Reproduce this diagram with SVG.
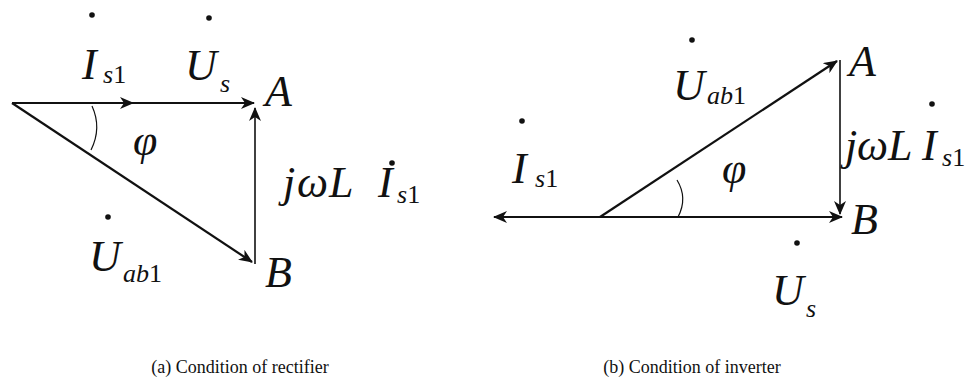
<svg xmlns="http://www.w3.org/2000/svg" width="974" height="384" viewBox="0 0 974 384" font-family="Liberation Serif, Times New Roman, serif">
<style>
.bg{fill:#fff}
.v{stroke:#111;stroke-width:2.2;fill:none}
.t{stroke:#111;stroke-width:1.6;fill:none}
.arc{stroke:#111;stroke-width:1.2;fill:none}
.m{font-style:italic;font-size:44px;fill:#111}
.sub{font-style:italic;font-size:26px;fill:#111}
.up{font-style:normal}
.cap{font-size:18px;fill:#111}
.dot{fill:#111}
</style>
<defs>
<marker id="ah" viewBox="0 0 14 12" refX="13" refY="6" markerWidth="14" markerHeight="12" markerUnits="userSpaceOnUse" orient="auto-start-reverse">
<path d="M0,0 L14,6 L0,12 L4,6 z" fill="#111"/>
</marker>
</defs>
<rect class="bg" x="0" y="0" width="974" height="384"/>
<g id="connectors">
<line class="v" x1="12" y1="103" x2="133" y2="103" marker-end="url(#ah)"/>
<line class="v" x1="133" y1="103" x2="254" y2="103" marker-end="url(#ah)"/>
<line class="v" x1="12" y1="103" x2="252" y2="262" marker-end="url(#ah)"/>
<line class="t" x1="255" y1="264" x2="255" y2="108" marker-end="url(#ah)"/>
<path class="arc" d="M92,106 Q102,128 91,150"/>
<line class="v" x1="494" y1="217" x2="842" y2="217" marker-start="url(#ah)" marker-end="url(#ah)"/>
<line class="v" x1="600" y1="217" x2="837" y2="61" marker-end="url(#ah)"/>
<line class="t" x1="840" y1="60" x2="840" y2="214" marker-end="url(#ah)"/>
<path class="arc" d="M677,180 Q688,198 678,217"/>
</g>
<g id="a-Is1"><circle class="dot" cx="92" cy="15" r="2.8"/><text class="m" x="82" y="79">I</text><text class="sub" x="103" y="83">s<tspan class="up">1</tspan></text></g>
<g id="a-Us"><circle class="dot" cx="209" cy="18" r="2.8"/><text class="m" x="185" y="80">U</text><text class="sub" x="220" y="92">s</text></g>
<g id="a-A"><text class="m" x="265" y="106">A</text></g>
<g id="a-phi"><text class="m" x="133" y="155">φ</text></g>
<g id="a-Uab1"><circle class="dot" cx="108" cy="217" r="2.8"/><text class="m" x="89" y="271">U</text><text class="sub" x="123" y="282">ab<tspan class="up">1</tspan></text></g>
<g id="a-B"><text class="m" x="265" y="287">B</text></g>
<g id="a-jwLI"><circle class="dot" cx="392" cy="163" r="2.8"/><text class="m" x="283" y="197">j</text><text class="m" x="297" y="197">ω</text><text class="m" x="329" y="197">L</text><text class="m" x="378" y="197">I</text><text class="sub" x="397" y="203">s<tspan class="up">1</tspan></text></g>
<g id="b-Is1"><circle class="dot" cx="522" cy="121" r="2.8"/><text class="m" x="512" y="183">I</text><text class="sub" x="535" y="187">s<tspan class="up">1</tspan></text></g>
<g id="b-Uab1"><circle class="dot" cx="692" cy="40" r="2.8"/><text class="m" x="673" y="100">U</text><text class="sub" x="707" y="104">ab<tspan class="up">1</tspan></text></g>
<g id="b-A"><text class="m" x="849" y="76">A</text></g>
<g id="b-phi"><text class="m" x="722" y="183">φ</text></g>
<g id="b-B"><text class="m" x="851" y="234">B</text></g>
<g id="b-Us"><circle class="dot" cx="797" cy="243" r="2.8"/><text class="m" x="772" y="305">U</text><text class="sub" x="806" y="317">s</text></g>
<g id="b-jwLI"><circle class="dot" cx="932" cy="104" r="2.8"/><text class="m" x="845" y="160">j</text><text class="m" x="857" y="160">ω</text><text class="m" x="888" y="160">L</text><text class="m" x="922" y="160">I</text><text class="sub" x="942" y="166">s<tspan class="up">1</tspan></text></g>
<g id="captions"><text class="cap" x="240" y="373" text-anchor="middle">(a) Condition of rectifier</text><text class="cap" x="692" y="373" text-anchor="middle">(b) Condition of inverter</text></g>
</svg>
